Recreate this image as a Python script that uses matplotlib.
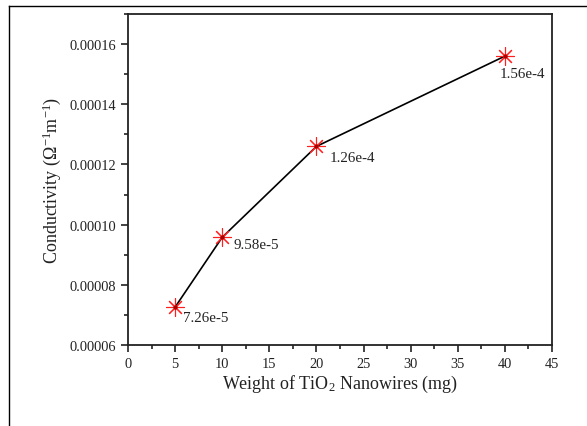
import matplotlib.pyplot as plt
from matplotlib.lines import Line2D

# data
weight = [5, 10, 20, 40]
conductivity = [7.26e-5, 9.58e-5, 1.26e-4, 1.56e-4]
labels = ['7.26e-5', '9.58e-5', '1.26e-4', '1.56e-4']
x_ticks = [0, 5, 10, 15, 20, 25, 30, 35, 40, 45]
y_ticks = [0.00006, 0.00008, 0.00010, 0.00012, 0.00014, 0.00016]

plt.rcParams['font.family'] = ['Liberation Serif', 'DejaVu Serif']
plt.rcParams['mathtext.fontset'] = 'custom'
plt.rcParams['mathtext.rm'] = 'Liberation Serif'
plt.rcParams['mathtext.it'] = 'Liberation Serif'

fig = plt.figure(figsize=(5.87, 4.27), dpi=100)
ax = fig.add_axes([128 / 587, 1 - 346 / 427, (552 - 128) / 587, (346 - 15) / 427])

# page border (top and left only)
fig.add_artist(Line2D([9 / 587, 1], [1 - 7 / 427, 1 - 7 / 427], color='black', lw=1))
fig.add_artist(Line2D([9 / 587, 9 / 587], [0, 1 - 7 / 427], color='black', lw=1))

ax.plot(weight, conductivity, color='black', lw=1.2, zorder=2)
ax.plot(weight, conductivity, ls='none', marker=(8, 2, 0), ms=13, mew=0.8,
        color='#ff2020', zorder=3)
ax.plot(weight, conductivity, ls='none', marker='o', ms=2, color='#aa0000', zorder=4)

# label offsets in pixels, as placed in the reference
offsets = [(8, -10), (11, -7), (13, -11), (-5, -17)]
for x, y, t, off in zip(weight, conductivity, labels, offsets):
    ax.annotate(t, (x, y), xytext=off, textcoords='offset pixels',
                ha='left', va='center', fontsize=10.8, color='#222222')

ax.set_xlim(0, 45)
ax.set_ylim(0.00006, 0.00017)
ax.set_xticks(x_ticks)
ax.set_xticks([v + 2.5 for v in x_ticks[:-1]], minor=True)
ax.set_yticks(y_ticks)
ax.set_yticks([v + 0.00001 for v in y_ticks], minor=True)
ax.set_yticklabels(['%.5f' % v for v in y_ticks])

ax.tick_params(which='both', direction='out', top=False, right=False,
               labelsize=10.4, width=1.2, colors='#222222')
ax.tick_params(which='major', length=5)
ax.tick_params(which='minor', length=3)
for s in ax.spines.values():
    s.set_linewidth(1.3)
    s.set_color('#222222')

ax.set_xlabel('Weight of TiO$_2$ Nanowires (mg)', fontsize=13, labelpad=2, color='#222222')
ax.set_ylabel('Conductivity ($\\Omega^{-1}$m$^{-1}$)', fontsize=13, labelpad=5, color='#222222')

fig.savefig('out.png', dpi=100)
